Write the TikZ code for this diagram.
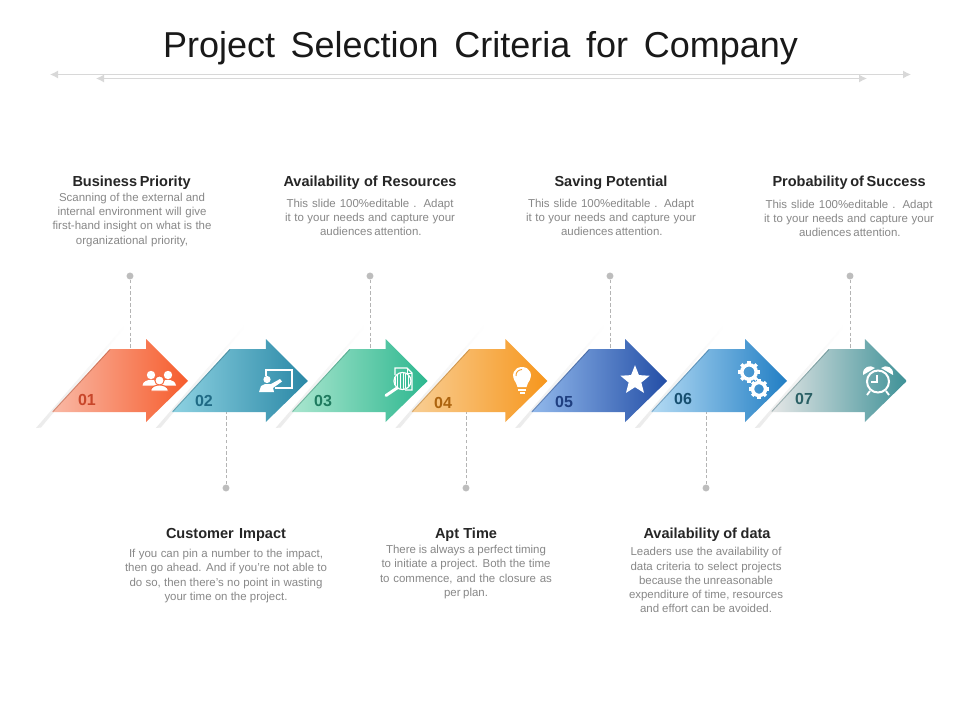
\documentclass[tikz,border=0pt]{standalone}
\usepackage{fontspec}
\setmainfont{Liberation Sans}
\usetikzlibrary{arrows.meta,shapes.geometric}
\definecolor{lineg}{HTML}{D8D8D8}
\definecolor{dotg}{HTML}{BDBDBD}
\definecolor{dashg}{HTML}{B4B4B4}
\definecolor{bodyg}{HTML}{888888}
\definecolor{headk}{HTML}{262626}
\definecolor{aL}{HTML}{F9B9A6}\definecolor{aR}{HTML}{F65C2C}\definecolor{aD}{HTML}{C8462A}
\definecolor{bL}{HTML}{8ED2E2}\definecolor{bR}{HTML}{2A88A6}\definecolor{bD}{HTML}{1F6A85}
\definecolor{cL}{HTML}{AAE6CF}\definecolor{cR}{HTML}{2DB78F}\definecolor{cD}{HTML}{1E7A5E}
\definecolor{dL}{HTML}{F8CE94}\definecolor{dR}{HTML}{F7961C}\definecolor{dD}{HTML}{AD640F}
\definecolor{eL}{HTML}{92B9EC}\definecolor{eR}{HTML}{234EA6}\definecolor{eD}{HTML}{1F3F80}
\definecolor{fL}{HTML}{B4DBF4}\definecolor{fR}{HTML}{217EC4}\definecolor{fD}{HTML}{174F70}
\definecolor{gL}{HTML}{E6E7E7}\definecolor{gR}{HTML}{3E9197}\definecolor{gD}{HTML}{2A6065}
\newcommand{\Fit}[2]{\makebox[\dimexpr#1pt*3/4\relax][s]{#2}}
\newcommand{\ChevArrow}[3]{% dx, left colour, right colour
  \begin{scope}[xshift=#1*0.75pt]
    \shade[left color=gray!16,right color=white,draw=none]
      (36,428) -- (125,325) -- (126,326) -- (41,427.5) -- cycle;
    \shade[left color=#2,right color=#3,draw=none]
      (52,412) -- (110,349) -- (146,349) -- (146,339) -- (188,381) -- (146,422) -- (146,412) -- cycle;
    \draw[#3!55!black,opacity=.35,line width=.7pt] (53,411.5) -- (110,349.5);
  \end{scope}}
\newcommand{\Gear}[3]{% x,y,r
  \draw[white,line width=2.6pt] (#1,#2) circle[radius=#3*0.72];
  \foreach \a in {0,45,...,315}
    \draw[white,line width=2.5pt] ([shift={(\a:#3*0.72)}]#1,#2) -- ([shift={(\a:#3*1.08)}]#1,#2);}
\tikzset{
  guide/.style={draw=lineg,line width=.9pt,{Latex[length=6pt,width=6pt]}-{Latex[length=6pt,width=6pt]}},
  titletxt/.style={font=\fontsize{27}{30}\selectfont,text=black!90,inner sep=0pt},
  headtxt/.style={font=\fontsize{10.9}{12}\bfseries\selectfont,text=headk,inner sep=0pt},
  bodytxt/.style={font=\fontsize{8.6}{10.55}\selectfont,text=bodyg,align=center,inner sep=0pt},
  pin/.style={circle,fill=dotg,draw=none,minimum size=5.2pt,inner sep=0pt},
  leader/.style={draw=dashg,line width=.5pt,dash pattern=on 2.6pt off 1.8pt},
  numtxt/.style={font=\fontsize{12}{14}\bfseries\selectfont,inner sep=0pt},
  icon/.style={white,line width=1pt}
}
\begin{document}
\begin{tikzpicture}[x=0.75pt,y=-0.75pt]
\useasboundingbox (0,0) rectangle (960,720);
\fill[white] (0,0) rectangle (960,720);

\node[titletxt] (title) at (480.5,48) {\Fit{635}{Project Selection Criteria for Company}};
\coordinate (g1l) at (50,74.5);\coordinate (g1r) at (911,74.5);
\coordinate (g2l) at (96,78.5);\coordinate (g2r) at (867,78.5);
\draw[guide] (g1l) -- (g1r);
\draw[guide] (g2l) -- (g2r);

% pins and leaders
\foreach \n/\x/\ya/\yb in {p1/130/276/349,p3/370/276/349,p5/610/276/349,p7/850/276/349,p2/226/488/412,p4/466/488/412,p6/706/488/412}{
  \node[pin] (\n) at (\x,\ya) {};
  \coordinate (\n e) at (\x,\yb);
  \draw[leader] (\n) -- (\n e);
}

% arrows
\ChevArrow{0}{aL}{aR}
\ChevArrow{119.8}{bL}{bR}
\ChevArrow{239.6}{cL}{cR}
\ChevArrow{359.4}{dL}{dR}
\ChevArrow{479.2}{eL}{eR}
\ChevArrow{599}{fL}{fR}
\ChevArrow{718.8}{gL}{gR}

% numbers
\node[numtxt,text=aD] (n1) at (87,400) {01};
\node[numtxt,text=bD] (n2) at (204,401) {02};
\node[numtxt,text=cD] (n3) at (323,401) {03};
\node[numtxt,text=dD] (n4) at (443,403) {04};
\node[numtxt,text=eD] (n5) at (564,402) {05};
\node[numtxt,text=fD] (n6) at (683,399) {06};
\node[numtxt,text=gD] (n7) at (804,399) {07};

% icon 1: people
\begin{scope}
  \fill[white] (151,375) circle[radius=4.2];
  \fill[white] (168,375) circle[radius=4.2];
  \fill[white] (142.5,385.5) .. controls (143,378) and (159,378) .. (159,385.5) -- cycle;
  \fill[white] (160,385.5) .. controls (160,378) and (175.5,378) .. (176,385.5) -- cycle;
  \fill[white,draw=aR!88!aL,line width=.7pt] (159.5,380.5) circle[radius=4.6];
  \fill[white,draw=aR!88!aL,line width=.7pt] (150.5,391) .. controls (151,383) and (168,383) .. (168.5,391) -- cycle;
\end{scope}
% icon 2: board
\begin{scope}
  \draw[icon,line width=.95pt] (266,376) -- (266,370) -- (292,370) -- (292,388) -- (275,388);
  \fill[white] (267,379.5) circle[radius=3.6];
  \fill[white] (259,392) -- (261,386) -- (265,384) -- (271,384) -- (280,379) -- (282,381.5) -- (273,388) -- (274,392) -- cycle;
\end{scope}
% icon 3: document and magnifier
\begin{scope}
  \draw[icon,line width=.9pt] (395,375) -- (395,368) -- (407,368) -- (412,373) -- (412,390) -- (405,390);
  \draw[icon,line width=.7pt] (407,368) -- (407,373) -- (412,373);
  \begin{scope}
    \clip (402.5,381) circle[radius=8];
    \draw[white,line width=.55pt,step=2.6] (394,372) grid (411,390);
  \end{scope}
  \draw[icon,line width=.9pt] (402.5,381) circle[radius=8.5];
  \draw[white,line width=2.2pt,line cap=round] (397,388) -- (386,395.5);
\end{scope}
% icon 4: bulb
\begin{scope}
  \fill[white] (516,383) .. controls (510,375) and (514,367) .. (522,367)
     .. controls (530,367) and (534,375) .. (528,383) -- (526.5,387) -- (517.5,387) -- cycle;
  \draw[dR!80!dL,line width=.7pt] (516,376) .. controls (516,372) and (518,370) .. (522,369.5);
  \fill[white] (518,388.5) rectangle (526,391);
  \fill[white] (519.5,392) rectangle (524.5,394);
\end{scope}
% icon 5: star
\node[star,star points=5,star point ratio=2.3,fill=white,draw=none,minimum size=23pt,inner sep=0pt] (star5) at (635,380.5) {};
% icon 6: gears
\Gear{749}{372}{10}
\Gear{759}{389}{9}
% icon 7: clock
\begin{scope}
  \draw[icon,line width=1.5pt] (878,381.5) circle[radius=11];
  \fill[white] (863,375) .. controls (862,367) and (870,364) .. (875,368) -- cycle;
  \fill[white] (893,375) .. controls (894,367) and (886,364) .. (881,368) -- cycle;
  \draw[icon,line width=1pt] (877,375) -- (877,382) -- (871,382);
  \draw[icon,line width=1.4pt] (870,391) -- (867,395);
  \draw[icon,line width=1.4pt] (886,391) -- (889,395);
\end{scope}

% headings
\node[headtxt] (h1) at (131.5,183) {\Fit{118}{Business Priority}};
\node[headtxt] (h2) at (226,535) {\Fit{120}{Customer Impact}};
\node[headtxt] (h3) at (370,183) {\Fit{173}{Availability of Resources}};
\node[headtxt] (h4) at (466,535) {\Fit{62}{Apt Time}};
\node[headtxt] (h5) at (611,183) {\Fit{113}{Saving Potential}};
\node[headtxt] (h6) at (707,535) {\Fit{127}{Availability of data}};
\node[headtxt] (h7) at (849,183) {\Fit{153}{Probability of Success}};

% bodies
\node[bodytxt] (b1) at (132,220) {\Fit{146}{Scanning of the external and}\\\Fit{149}{internal environment will give}\\\Fit{159}{first-hand insight on what is the}\\\Fit{112}{organizational priority,}};
\node[bodytxt] (b3) at (370,217.5) {\Fit{167}{This slide 100\%editable . Adapt}\\\Fit{170}{it to your needs and capture your}\\\Fit{100}{audiences attention.}};
\node[bodytxt] (b5) at (611,217.5) {\Fit{166}{This slide 100\%editable . Adapt}\\\Fit{170}{it to your needs and capture your}\\\Fit{100}{audiences attention.}};
\node[bodytxt] (b7) at (849,218.5) {\Fit{167}{This slide 100\%editable . Adapt}\\\Fit{170}{it to your needs and capture your}\\\Fit{100}{audiences attention.}};
\node[bodytxt] (b2) at (226,576) {\Fit{194}{If you can pin a number to the impact,}\\\Fit{202}{then go ahead. And if you're not able to}\\\Fit{193}{do so, then there's no point in wasting}\\\Fit{123}{your time on the project.}};
\node[bodytxt] (b4) at (466,572) {\Fit{160}{There is always a perfect timing}\\\Fit{169}{to initiate a project. Both the time}\\\Fit{172}{to commence, and the closure as}\\\Fit{44}{per plan.}};
\node[bodytxt] (b6) at (706,580) {\Fit{151}{Leaders use the availability of}\\\Fit{151}{data criteria to select projects}\\\Fit{134}{because the unreasonable}\\\Fit{154}{expenditure of time, resources}\\\Fit{132}{and effort can be avoided.}};
\end{tikzpicture}
\end{document}
